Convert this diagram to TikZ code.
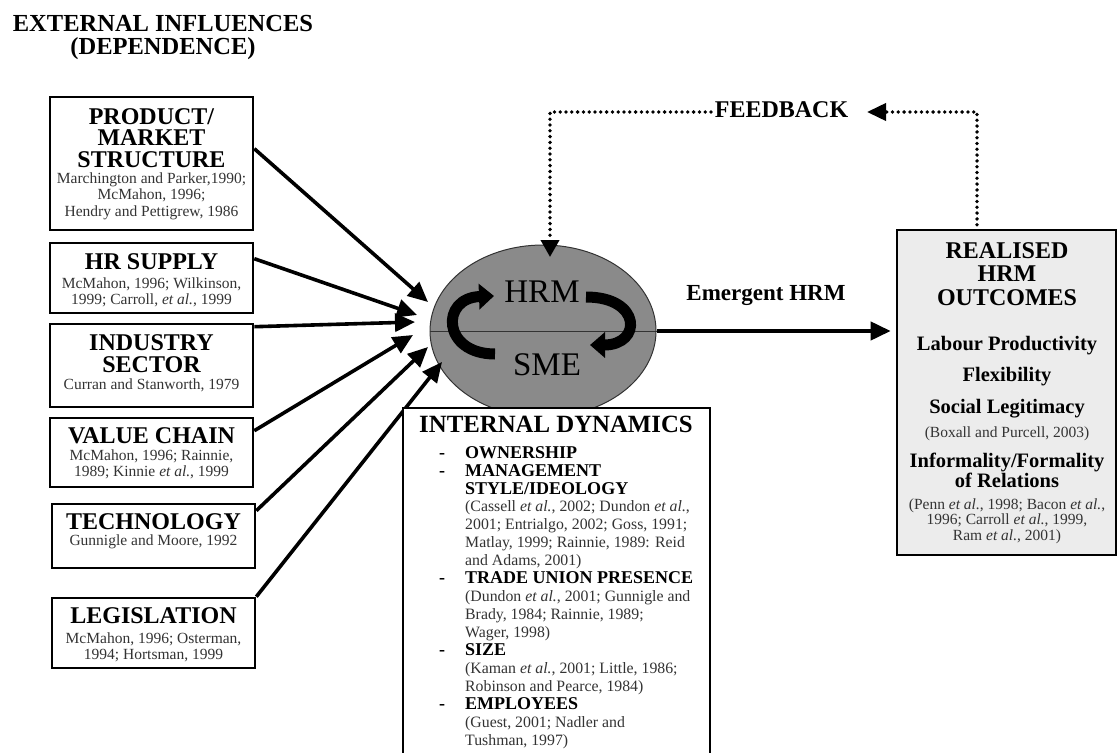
\documentclass[tikz,border=0pt]{standalone}
\usepackage{fontspec}
\setmainfont{Liberation Serif}
\usetikzlibrary{arrows.meta,shapes.geometric,calc}
\definecolor{citegray}{HTML}{333333}
\definecolor{ellgray}{HTML}{8A8A8A}
\definecolor{boxgray}{HTML}{ECECEC}
\newcommand\idcite{\mdseries\fontsize{15.8}{17.94}\selectfont\color{citegray}}
\begin{document}
\begin{tikzpicture}[x=1pt,y=-1pt,
  ebox/.style={draw, line width=2.6pt, fill=white, inner sep=0pt, minimum width=203pt},
  headtxt/.style={font=\fontsize{24}{21.5}\selectfont\bfseries, align=center, inner sep=0pt, anchor=north},
  citetxt/.style={font=\fontsize{15.5}{16.5}\selectfont, text=citegray, align=center, inner sep=0pt, anchor=north},
  flow/.style={line width=3.6pt, -{Triangle[length=20pt,width=18pt]}},
  fbline/.style={line width=3.8pt, dash pattern=on 0pt off 5.8pt, line cap=round},
  curl/.style={line width=11pt, -{Triangle[length=15pt,width=25pt]}},
  outtxt/.style={font=\fontsize{20.5}{20}\selectfont\bfseries, align=center, inner sep=0pt},
  outcite/.style={font=\fontsize{15.5}{15.5}\selectfont, text=citegray, align=center, inner sep=0pt},
]
\useasboundingbox (0,0) rectangle (1118,752);

% title
\node[font=\fontsize{24.5}{22.5}\selectfont\bfseries, align=center, inner sep=0pt, anchor=north] (title) at (163,15.3) {EXTERNAL INFLUENCES\\(DEPENDENCE)};

% left boxes
\node[ebox, minimum height=133pt] (b1) at (151.5,163.5) {};
\node[headtxt] (b1h) at (151.5,108) {PRODUCT/\\MARKET\\STRUCTURE};
\node[citetxt] (b1c) at (151.5,172.5) {Marchington and Parker,1990;\\McMahon, 1996;\\Hendry and Pettigrew, 1986};

\node[ebox, minimum height=70pt] (b2) at (151.5,278) {};
\node[headtxt] (b2h) at (151.5,253) {HR SUPPLY};
\node[citetxt] (b2c) at (151.5,277.5) {McMahon, 1996; Wilkinson,\\1999; Carroll, \textit{et al.}, 1999};

\node[ebox, minimum height=83pt] (b3) at (151.5,365.5) {};
\node[headtxt, font=\fontsize{24}{22.5}\selectfont\bfseries] (b3h) at (151.5,334) {INDUSTRY\\SECTOR};
\node[citetxt] (b3c) at (151.5,378.5) {Curran and Stanworth, 1979};

\node[ebox, minimum height=69pt] (b4) at (151.5,452.5) {};
\node[headtxt] (b4h) at (151.5,427) {VALUE CHAIN};
\node[citetxt] (b4c) at (151.5,449.5) {McMahon, 1996; Rainnie,\\1989; Kinnie \textit{et al.}, 1999};

\node[ebox, minimum height=64pt] (b5) at (153.5,536) {};
\node[headtxt] (b5h) at (153.5,513) {TECHNOLOGY};
\node[citetxt] (b5c) at (153.5,534.5) {Gunnigle and Moore, 1992};

\node[ebox, minimum height=70pt] (b6) at (153.5,633) {};
\node[headtxt] (b6h) at (153.5,607) {LEGISLATION};
\node[citetxt] (b6c) at (153.5,632.5) {McMahon, 1996; Osterman,\\1994; Hortsman, 1999};

% central ellipse
\node[ellipse, draw=black!80, line width=1pt, fill=ellgray, minimum width=226pt, minimum height=172pt, inner sep=0pt] (hrm) at (543,331) {};
\draw[line width=1pt, black!80] (hrm.west) -- (hrm.east);
\draw[curl] (495,354) .. controls (442,354) and (440,298) .. (494,296);
\draw[curl] (586,297) .. controls (642,297) and (642,345) .. (590,345);
\node[font=\fontsize{33}{33}\selectfont, anchor=base, inner sep=0pt] (hrmt) at (542,302) {HRM};
\node[font=\fontsize{33}{33}\selectfont, anchor=base, inner sep=0pt] (smet) at (547,375) {SME};

% arrow end points at the ellipse
\coordinate (e1) at (428,302);
\coordinate (e2) at (417,315);
\coordinate (e3) at (415,322);
\coordinate (e4) at (413,335);
\coordinate (e5) at (428,347);
\coordinate (e6) at (442,362);
\draw[flow] ($(b1.north east)+(0,53)$) -- (e1);
\draw[flow] ($(b2.north east)+(0,17)$) -- (e2);
\draw[flow] ($(b3.north east)+(0,4)$) -- (e3);
\draw[flow] ($(b4.north east)+(0,14)$) -- (e4);
\draw[flow] ($(b5.north east)+(0,8)$) -- (e5);
\draw[flow] (b6.north east) -- (e6);

% internal dynamics box
\fill[white] (403,408) rectangle (710,752);
\draw[line width=2.6pt] (403,754) |- (710,408) -- (710,754);
\node[inner sep=0pt, anchor=north, font=\fontsize{24.8}{24.8}\selectfont\bfseries] (idt) at (556,415.5) {INTERNAL DYNAMICS};
\node[inner sep=0pt, anchor=north west, font=\fontsize{18}{17.94}\selectfont\bfseries] (idl) at (439,445.4) {%
\begin{tabular}{@{}p{26pt}@{}l@{}}
- & OWNERSHIP\\
- & MANAGEMENT\\
  & STYLE/IDEOLOGY\\
  & \idcite (Cassell \textit{et al.}, 2002; Dundon \textit{et al.},\\
  & \idcite 2001; Entrialgo, 2002; Goss, 1991;\\
  & \idcite Matlay, 1999; Rainnie, 1989: Reid\\
  & \idcite and Adams, 2001)\\
- & TRADE UNION PRESENCE\\
  & \idcite (Dundon \textit{et al.}, 2001; Gunnigle and\\
  & \idcite Brady, 1984; Rainnie, 1989;\\
  & \idcite Wager, 1998)\\
- & SIZE\\
  & \idcite (Kaman \textit{et al.}, 2001; Little, 1986;\\
  & \idcite Robinson and Pearce, 1984)\\
- & EMPLOYEES\\
  & \idcite (Guest, 2001; Nadler and\\
  & \idcite Tushman, 1997)
\end{tabular}};

% outcomes box
\node[draw, line width=2.6pt, fill=boxgray, minimum width=219pt, minimum height=325pt, inner sep=0pt] (rb) at (1006.5,392.5) {};
\node[headtxt, font=\fontsize{24}{23.5}\selectfont\bfseries] (rbh) at (1007,242) {REALISED\\HRM\\OUTCOMES};
\node[outtxt, anchor=base] (lp) at (1007,350) {Labour Productivity};
\node[outtxt, anchor=base] (fl) at (1007,381) {Flexibility};
\node[outtxt, anchor=base] (sl) at (1007,413) {Social Legitimacy};
\node[outcite, anchor=base] (bx) at (1007,437) {(Boxall and Purcell, 2003)};
\node[outtxt, anchor=north] (inf) at (1007,453) {Informality/Formality\\of Relations};
\node[outcite, anchor=north] (pc) at (1007,498.5) {(Penn \textit{et al.}, 1998; Bacon \textit{et al.},\\1996; Carroll \textit{et al.}, 1999,\\Ram \textit{et al.}, 2001)};

% emergent HRM
\draw[line width=4pt, -{Triangle[length=20pt,width=18pt]}] (hrm.east) -- ($(hrm.east -| rb.west)+(-5,0)$);
\node[font=\fontsize{23}{23}\selectfont\bfseries, anchor=base, inner sep=0pt] (em) at (766,300) {Emergent HRM};

% feedback
\node[font=\fontsize{24}{24}\selectfont\bfseries, anchor=base, inner sep=0pt] (fb) at (781.5,117) {FEEDBACK};
\coordinate (fbR) at (977,112);
\coordinate (fbtip) at (867,112);
\coordinate (fbS) at (711,112);
\coordinate (fbL) at (550,112);
\coordinate (hrmtop) at (550,257);
\draw[fbline, -{Triangle[length=19pt,width=17pt]}] ($(rb.north -| fbR)+(0,-4)$) -- (fbR) -- (fbtip);
\draw[fbline, -{Triangle[length=17pt,width=18pt]}] (fbS) -- (fbL) -- (hrmtop);
\end{tikzpicture}
\end{document}
